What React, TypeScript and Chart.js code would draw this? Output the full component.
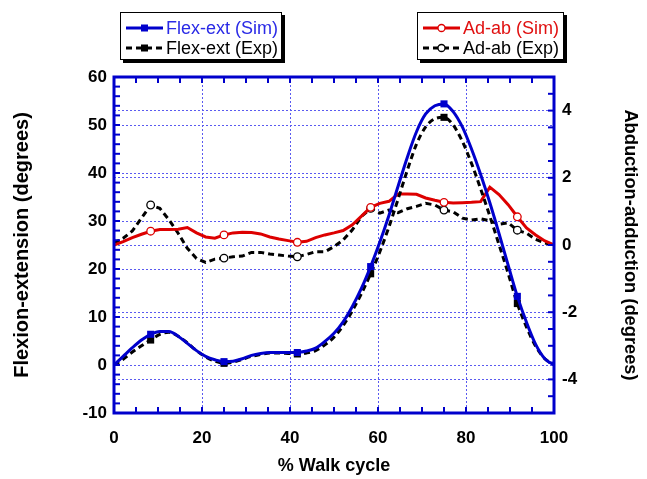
import React, { useEffect, useRef } from 'react';
import { Chart, registerables } from 'chart.js';

Chart.register(...registerables);

// % walk cycle sample positions
const walkCycle = [0, 2.08, 4.17, 6.25, 8.33, 10.42, 12.5, 14.58, 16.67, 18.75, 20.83, 22.92, 25, 27.08, 29.17, 31.25, 33.33, 35.42, 37.5, 39.58, 41.67, 43.75, 45.83, 47.92, 50, 52.08, 54.17, 56.25, 58.33, 60.42, 62.5, 64.58, 66.67, 68.75, 70.83, 72.92, 75, 77.08, 79.17, 81.25, 83.33, 85.42, 87.5, 89.58, 91.67, 93.75, 95.83, 97.92, 100];

// Flexion-extension (degrees), left axis
const flexSim = [0, 1.8, 3.6, 5.2, 6.4, 7.0, 7.0, 6.0, 4.5, 3.0, 1.8, 1.1, 0.7, 0.8, 1.3, 2.0, 2.4, 2.6, 2.6, 2.6, 2.6, 2.9, 3.5, 4.9, 6.6, 9.0, 12.2, 16.0, 20.5, 25.6, 31.2, 37.3, 43.3, 48.6, 52.3, 54.0, 54.4, 52.8, 49.6, 45.0, 39.7, 33.8, 27.4, 20.8, 14.3, 8.9, 4.3, 1.3, 0];
const flexExp = [0, 1.2, 2.7, 4.0, 5.2, 6.4, 6.8, 6.0, 4.6, 3.0, 1.7, 0.8, 0.35, 0.6, 1.2, 1.8, 2.2, 2.5, 2.5, 2.4, 2.3, 2.5, 3.0, 4.2, 5.8, 8.2, 11.3, 14.9, 19.0, 23.6, 28.8, 34.6, 40.6, 46.0, 49.6, 51.3, 51.6, 50.0, 46.6, 42.0, 36.7, 31.0, 25.1, 19.1, 12.8, 7.9, 3.9, 1.3, 0.1];

// Abduction-adduction (degrees), right axis
const adabSim = [0.0, 0.1, 0.22, 0.32, 0.41, 0.46, 0.46, 0.47, 0.52, 0.36, 0.24, 0.2, 0.30, 0.36, 0.38, 0.37, 0.33, 0.24, 0.18, 0.13, 0.08, 0.11, 0.22, 0.30, 0.36, 0.43, 0.6, 0.86, 1.12, 1.24, 1.30, 1.52, 1.52, 1.51, 1.40, 1.33, 1.27, 1.25, 1.26, 1.27, 1.29, 1.72, 1.50, 1.20, 0.84, 0.51, 0.30, 0.12, 0.0];
const adabExp = [0.05, 0.2, 0.42, 0.8, 1.19, 1.09, 0.75, 0.35, -0.1, -0.4, -0.52, -0.42, -0.39, -0.35, -0.33, -0.22, -0.22, -0.27, -0.30, -0.33, -0.35, -0.28, -0.2, -0.2, -0.05, 0.15, 0.45, 0.85, 1.09, 0.95, 1.04, 0.96, 1.08, 1.15, 1.24, 1.19, 1.04, 0.99, 0.8, 0.74, 0.78, 0.72, 0.62, 0.66, 0.44, 0.35, 0.17, 0.06, 0.0];

// indices of the sample points that carry a marker
const markerIdx = [4, 12, 20, 28, 36, 44];

const xTicks = [0, 20, 40, 60, 80, 100];
const leftTicks = [-10, 0, 10, 20, 30, 40, 50, 60];
const rightTicks = [-4, -2, 0, 2, 4];

const labels = {
  flexSim: 'Flex-ext (Sim)',
  flexExp: 'Flex-ext (Exp)',
  adabSim: 'Ad-ab (Sim)',
  adabExp: 'Ad-ab (Exp)',
  x: '% Walk cycle',
  yLeft: 'Flexion-extension (degrees)',
  yRight: 'Abduction-adduction (degrees)',
};

const BLUE = '#0000cc';
const RED = '#dd0000';
const GRID = '#5a5af0';
const FONT = '"Liberation Sans", Arial, sans-serif';

const pts = (ys: number[]) => walkCycle.map((x, i) => ({ x, y: ys[i] }));
const markerRadius = (r: number) => (ctx: any) => (markerIdx.includes(ctx.dataIndex) ? r : 0);

const framePlugin = {
  id: 'frame',
  afterDraw(chart: any) {
    const { ctx, chartArea: a, scales } = chart;
    ctx.save();
    ctx.strokeStyle = BLUE;
    ctx.lineWidth = 2;
    const seg = (x1: number, y1: number, x2: number, y2: number) => {
      ctx.beginPath();
      ctx.moveTo(x1, y1);
      ctx.lineTo(x2, y2);
      ctx.stroke();
    };
    const tl = 6;
    for (let v = 0; v <= 100; v += 5) {
      const px = scales.x.getPixelForValue(v);
      seg(px, a.bottom, px, a.bottom - tl);
      seg(px, a.top, px, a.top + tl);
    }
    for (let v = -10; v <= 60; v += 2) {
      const py = scales.y.getPixelForValue(v);
      seg(a.left, py, a.left + tl, py);
    }
    for (let v = -5; v <= 5; v += 0.5) {
      const py = scales.y2.getPixelForValue(v);
      seg(a.right, py, a.right - tl, py);
    }
    ctx.lineWidth = 3;
    ctx.strokeRect(a.left, a.top, a.right - a.left, a.bottom - a.top);

    // legends
    const drawBox = (x: number, y: number, w: number, h: number) => {
      ctx.fillStyle = '#000';
      ctx.fillRect(x + 3, y + 3, w, h);
      ctx.fillStyle = '#fff';
      ctx.fillRect(x, y, w, h);
      ctx.lineWidth = 1;
      ctx.strokeStyle = '#000';
      ctx.strokeRect(x + 0.5, y + 0.5, w - 1, h - 1);
    };
    const drawEntry = (
      x1: number, x2: number, y: number, color: string, dash: number[], marker: string,
      text: string, textColor: string,
    ) => {
      ctx.save();
      ctx.strokeStyle = color;
      ctx.lineWidth = 3;
      ctx.setLineDash(dash);
      seg(x1, y, x2, y);
      ctx.setLineDash([]);
      const mx = (x1 + x2) / 2;
      if (marker === 'rect') {
        ctx.fillStyle = color;
        ctx.fillRect(mx - 3.5, y - 3.5, 7, 7);
      } else {
        ctx.beginPath();
        ctx.arc(mx, y, 3.5, 0, Math.PI * 2);
        ctx.fillStyle = '#fff';
        ctx.fill();
        ctx.lineWidth = 1.3;
        ctx.strokeStyle = color;
        ctx.stroke();
      }
      ctx.fillStyle = textColor;
      ctx.font = `18px ${FONT}`;
      ctx.textBaseline = 'middle';
      ctx.textAlign = 'left';
      ctx.fillText(text, x2 + 3, y + 1);
      ctx.restore();
    };
    drawBox(120, 12, 162, 48);
    drawEntry(126, 163, 28, BLUE, [], 'rect', labels.flexSim, '#2a2ae6');
    drawEntry(126, 163, 48, '#000', [6, 4], 'rect', labels.flexExp, '#000');
    drawBox(417, 12, 147, 48);
    drawEntry(423, 460, 28, RED, [], 'circle', labels.adabSim, '#e01010');
    drawEntry(423, 460, 48, '#000', [6, 4], 'circle', labels.adabExp, '#000');
    ctx.restore();
  },
};

export default function App() {
  const ref = useRef<HTMLCanvasElement | null>(null);
  useEffect(() => {
    document.body.style.margin = '0';
    if (!ref.current) return;
    const tickFont = { family: FONT, size: 17, weight: 'bold' as const };
    const xTitleFont = { family: FONT, size: 18, weight: 'bold' as const };
    const leftTitleFont = { family: FONT, size: 20, weight: 'bold' as const };
    const rightTitleFont = { family: FONT, size: 18.3, weight: 'bold' as const };
    const chart = new Chart(ref.current, {
      type: 'line',
      data: {
        datasets: [
          {
            label: labels.flexSim,
            data: pts(flexSim),
            yAxisID: 'y',
            borderColor: BLUE,
            borderWidth: 3,
            pointStyle: 'rect',
            pointRadius: markerRadius(5),
            pointBackgroundColor: BLUE,
            pointBorderColor: BLUE,
            pointBorderWidth: 0,
            cubicInterpolationMode: 'monotone',
            order: 0,
          },
          {
            label: labels.flexExp,
            data: pts(flexExp),
            yAxisID: 'y',
            borderColor: '#000',
            borderWidth: 3,
            borderDash: [6, 4],
            pointStyle: 'rect',
            pointRadius: markerRadius(5),
            pointBackgroundColor: '#000',
            pointBorderColor: '#000',
            pointBorderWidth: 0,
            cubicInterpolationMode: 'monotone',
            order: 1,
          },
          {
            label: labels.adabSim,
            data: pts(adabSim),
            yAxisID: 'y2',
            borderColor: RED,
            borderWidth: 3,
            pointStyle: 'circle',
            pointRadius: markerRadius(3.8),
            pointBackgroundColor: '#fff',
            pointBorderColor: RED,
            pointBorderWidth: 1.3,
            tension: 0,
            order: 2,
          },
          {
            label: labels.adabExp,
            data: pts(adabExp),
            yAxisID: 'y2',
            borderColor: '#000',
            borderWidth: 3,
            borderDash: [6, 4],
            pointStyle: 'circle',
            pointRadius: markerRadius(3.8),
            pointBackgroundColor: '#fff',
            pointBorderColor: '#000',
            pointBorderWidth: 1.3,
            tension: 0,
            order: 3,
          },
        ],
      },
      options: {
        responsive: false,
        animation: false,
        layout: { padding: { top: 77, left: 0, right: 0, bottom: 0 } },
        plugins: { legend: { display: false }, tooltip: { enabled: false } },
        scales: {
          x: {
            type: 'linear',
            min: 0,
            max: 100,
            afterBuildTicks: (s: any) => { s.ticks = xTicks.map((value) => ({ value })); },
            afterFit: (s: any) => { s.height = 66; },
            ticks: { color: '#000', font: tickFont, padding: 15 },
            grid: { color: GRID, lineWidth: 1, drawTicks: false },
            border: { display: false, dash: [2, 2] },
            title: { display: true, text: labels.x, color: '#000', font: xTitleFont, padding: { top: 0, bottom: 2 } },
          },
          y: {
            type: 'linear',
            position: 'left',
            min: -10,
            max: 60,
            afterBuildTicks: (s: any) => { s.ticks = leftTicks.map((value) => ({ value })); },
            afterFit: (s: any) => { s.width = 114; },
            ticks: { color: '#000', font: tickFont, padding: 7 },
            grid: { color: GRID, lineWidth: 1, drawTicks: false },
            border: { display: false, dash: [2, 2] },
            title: { display: true, text: labels.yLeft, color: '#000', font: leftTitleFont, padding: { top: 10, bottom: 0 } },
          },
          y2: {
            type: 'linear',
            position: 'right',
            min: -5,
            max: 5,
            afterBuildTicks: (s: any) => { s.ticks = rightTicks.map((value) => ({ value })); },
            afterFit: (s: any) => { s.width = 93; },
            ticks: { color: '#000', font: tickFont, padding: 8 },
            grid: { color: GRID, lineWidth: 1, drawTicks: false, drawOnChartArea: true },
            border: { display: false, dash: [2, 2] },
            title: { display: true, text: labels.yRight, color: '#000', font: rightTitleFont, padding: { top: 6, bottom: 0 } },
          },
        },
      } as any,
      plugins: [framePlugin],
    });
    return () => chart.destroy();
  }, []);
  return (
    <div style={{ width: 647, height: 479 }}>
      <canvas ref={ref} width={647} height={479} style={{ display: 'block' }} />
    </div>
  );
}
